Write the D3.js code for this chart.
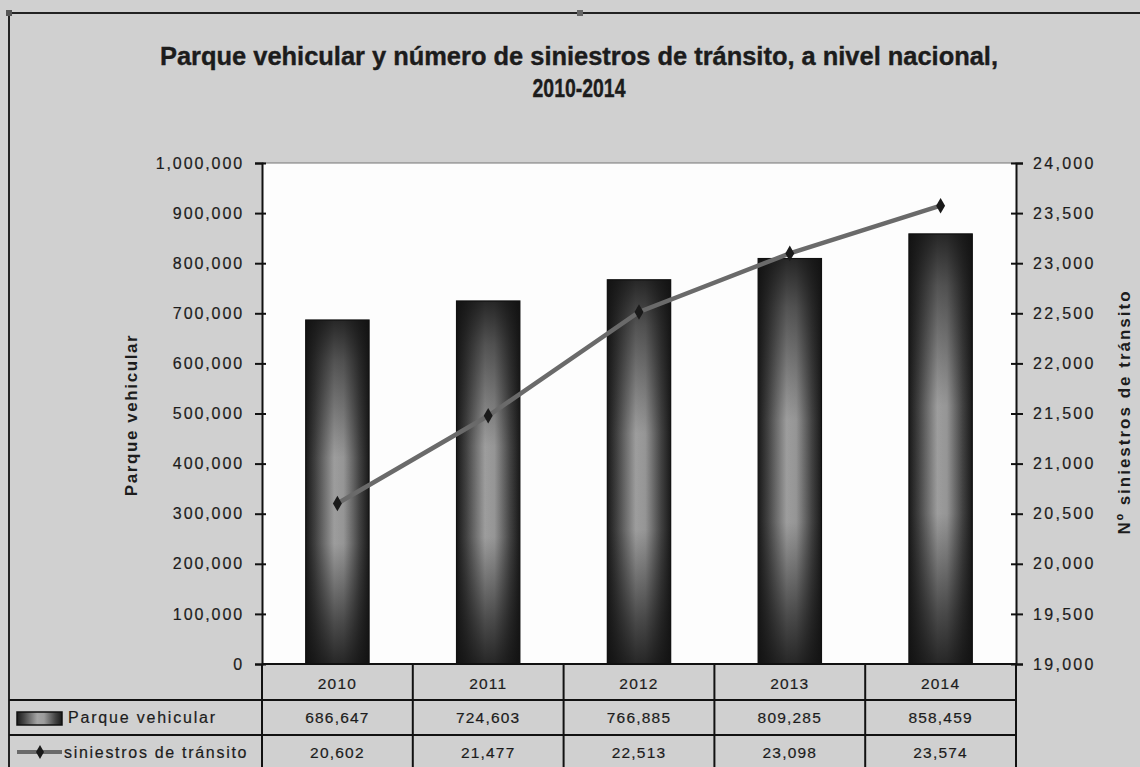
<!DOCTYPE html>
<html><head><meta charset="utf-8">
<script src="https://cdn.jsdelivr.net/npm/d3@7"></script>
<style>
html,body{margin:0;padding:0;background:#fff;}
svg{display:block;}
text{font-family:"Liberation Sans",Arial,sans-serif;fill:#1c1c1c;}
</style></head>
<body>
<svg id="c" width="1140" height="767"></svg>
<script>
const years = ["2010","2011","2012","2013","2014"];
const parque = [686647, 724603, 766885, 809285, 858459];
const siniestros = [20602, 21477, 22513, 23098, 23574];
const leftTicks = [0,100000,200000,300000,400000,500000,600000,700000,800000,900000,1000000];
const rightTicks = [19000,19500,20000,20500,21000,21500,22000,22500,23000,23500,24000];
const titleLines = ["Parque vehicular y número de siniestros de tránsito, a nivel nacional,","2010-2014"];
const seriesNames = ["Parque vehicular","siniestros de tránsito"];
const leftTitle = "Parque vehicular";
const rightTitle = "Nº siniestros de tránsito";

const svg = d3.select("#c");
const W=1140,H=767;
const plot = {l:262, r:1016, t:163, b:664};
const fmt = d3.format(",");

// defs
const defs = svg.append("defs");
const gh = defs.append("linearGradient").attr("id","barH").attr("x1","0").attr("x2","1").attr("y1","0").attr("y2","0");
[[0,"#1a1a1a"],[0.15,"#444"],[0.45,"#a4a4a4"],[0.6,"#9c9c9c"],[0.85,"#444"],[1,"#1a1a1a"]]
  .forEach(s=>gh.append("stop").attr("offset",s[0]).attr("stop-color",s[1]));
const gv = defs.append("linearGradient").attr("id","barV").attr("x1","0").attr("x2","0").attr("y1","0").attr("y2","1");
[[0,0.85],[0.12,0.55],[0.4,0.05],[0.65,0.05],[0.88,0.6],[1,0.85]]
  .forEach(s=>gv.append("stop").attr("offset",s[0]).attr("stop-color","#111").attr("stop-opacity",s[1]));

// background
svg.append("rect").attr("width",W).attr("height",H).attr("fill","#d0d0d0");
// frame
svg.append("line").attr("x1",9).attr("x2",W).attr("y1",13).attr("y2",13).attr("stroke","#222").attr("stroke-width",2);
svg.append("line").attr("x1",9).attr("x2",9).attr("y1",13).attr("y2",H).attr("stroke","#222").attr("stroke-width",2);
svg.append("rect").attr("x",6).attr("y",10).attr("width",6).attr("height",6).attr("fill","#555");
svg.append("rect").attr("x",577).attr("y",10).attr("width",6).attr("height",6).attr("fill","#666");

// title
titleLines.forEach((t,i)=>{
  svg.append("text").attr("x",579).attr("y",i===0?65:97).attr("text-anchor","middle")
    .attr("font-size",26).attr("font-weight","bold").attr("stroke","#1c1c1c").attr("stroke-width",0.4)
    .attr("textLength",i===0?838:93).attr("lengthAdjust","spacingAndGlyphs").text(t);
});

// scales
const x = d3.scaleBand().domain(years).range([plot.l,plot.r]).padding(0);
const yL = d3.scaleLinear().domain([0,1000000]).range([plot.b,plot.t]);
const yR = d3.scaleLinear().domain([19000,24000]).range([plot.b,plot.t]);

// plot area
svg.append("rect").attr("x",plot.l).attr("y",plot.t).attr("width",plot.r-plot.l).attr("height",plot.b-plot.t).attr("fill","#fdfdfd");
svg.append("line").attr("x1",plot.l).attr("x2",plot.r).attr("y1",plot.t).attr("y2",plot.t).attr("stroke","#777").attr("stroke-width",1.2);

// bars
const bw = x.bandwidth()*0.42;
const bars = svg.append("g");
parque.forEach((v,i)=>{
  const bx = x(years[i]) + (x.bandwidth()-bw)/2;
  bars.append("rect").attr("x",bx).attr("y",yL(v)).attr("width",bw).attr("height",yL(0)-yL(v)).attr("fill","url(#barH)");
  bars.append("rect").attr("x",bx).attr("y",yL(v)).attr("width",bw).attr("height",yL(0)-yL(v)).attr("fill","url(#barV)")
    .attr("stroke","#111").attr("stroke-width",1.2);
});

// line
const pts = siniestros.map((v,i)=>[x(years[i])+x.bandwidth()/2, yR(v)]);
svg.append("path").attr("d",d3.line()(pts)).attr("fill","none").attr("stroke","#6a6a6a").attr("stroke-width",4.5);
svg.append("g").selectAll("path").data(pts).join("path")
  .attr("transform",d=>`translate(${d[0]},${d[1]})`)
  .attr("d",d3.symbol(d3.symbolDiamond,70)()).attr("fill","#1a1a1a");

// axes
const axL = svg.append("g").attr("transform",`translate(${plot.l},0)`)
  .call(d3.axisLeft(yL).tickValues(leftTicks).tickFormat(fmt).tickSize(7).tickPadding(10));
axL.select(".domain").attr("stroke","#111").attr("stroke-width",2);
axL.selectAll(".tick line").attr("x1",4).attr("x2",-7).attr("stroke","#111").attr("stroke-width",2);
axL.selectAll(".tick text").attr("font-size",16).attr("letter-spacing","1.9px").attr("fill","#1c1c1c")
  .attr("stroke","#1c1c1c").attr("stroke-width",0.2)
  .attr("font-family","Liberation Sans, Arial, sans-serif").attr("dx","-1px");

const axR = svg.append("g").attr("transform",`translate(${plot.r},0)`)
  .call(d3.axisRight(yR).tickValues(rightTicks).tickFormat(fmt).tickSize(7).tickPadding(10));
axR.select(".domain").attr("stroke","#111").attr("stroke-width",2);
axR.selectAll(".tick line").attr("x1",-5).attr("x2",7).attr("stroke","#111").attr("stroke-width",2);
axR.selectAll(".tick text").attr("font-size",16).attr("letter-spacing","2.3px").attr("fill","#1c1c1c")
  .attr("stroke","#1c1c1c").attr("stroke-width",0.2)
  .attr("font-family","Liberation Sans, Arial, sans-serif");

// axis titles
svg.append("text").attr("transform","translate(137,415) rotate(-90)").attr("text-anchor","middle")
  .attr("font-size",17).attr("font-weight","bold").attr("letter-spacing","1.6px").text(leftTitle);
svg.append("text").attr("transform","translate(1130,412) rotate(-90)").attr("text-anchor","middle")
  .attr("font-size",17).attr("font-weight","bold").attr("letter-spacing","2px").text(rightTitle);

// data table
const tg = svg.append("g");
tg.append("line").attr("x1",plot.l).attr("x2",plot.r).attr("y1",plot.b).attr("y2",plot.b).attr("stroke","#111").attr("stroke-width",2);
[700,735].forEach(y=>tg.append("line").attr("x1",9).attr("x2",plot.r).attr("y1",y).attr("y2",y).attr("stroke","#111").attr("stroke-width",2));
years.forEach(yv=>tg.append("line").attr("x1",x(yv)).attr("x2",x(yv)).attr("y1",plot.b).attr("y2",H).attr("stroke","#111").attr("stroke-width",2));
tg.append("line").attr("x1",plot.r).attr("x2",plot.r).attr("y1",plot.b).attr("y2",H).attr("stroke","#111").attr("stroke-width",2);

const cellText = (xx,yy,t)=>tg.append("text").attr("x",xx).attr("y",yy).attr("text-anchor","middle")
  .attr("font-size",15.5).attr("letter-spacing","1.2px").attr("stroke","#1c1c1c").attr("stroke-width",0.2).text(t);
years.forEach((yv,i)=>{
  const cx = x(yv)+x.bandwidth()/2;
  cellText(cx, 689, yv);
  cellText(cx, 723, fmt(parque[i]));
  cellText(cx, 758, fmt(siniestros[i]));
});
// legend keys
tg.append("rect").attr("x",17).attr("y",712).attr("width",45).attr("height",13).attr("fill","url(#barH)").attr("stroke","#111").attr("stroke-width",1.5);
tg.append("text").attr("x",68).attr("y",723).attr("font-size",16).attr("letter-spacing","1.8px")
  .attr("stroke","#1c1c1c").attr("stroke-width",0.2).text(seriesNames[0]);
tg.append("line").attr("x1",17).attr("x2",62).attr("y1",752).attr("y2",752).attr("stroke","#6a6a6a").attr("stroke-width",4);
tg.append("path").attr("transform","translate(40,752)").attr("d",d3.symbol(d3.symbolDiamond,55)()).attr("fill","#1a1a1a");
tg.append("text").attr("x",64).attr("y",758).attr("font-size",16).attr("letter-spacing","1.7px")
  .attr("stroke","#1c1c1c").attr("stroke-width",0.2).text(seriesNames[1]);
</script>
</body></html>
